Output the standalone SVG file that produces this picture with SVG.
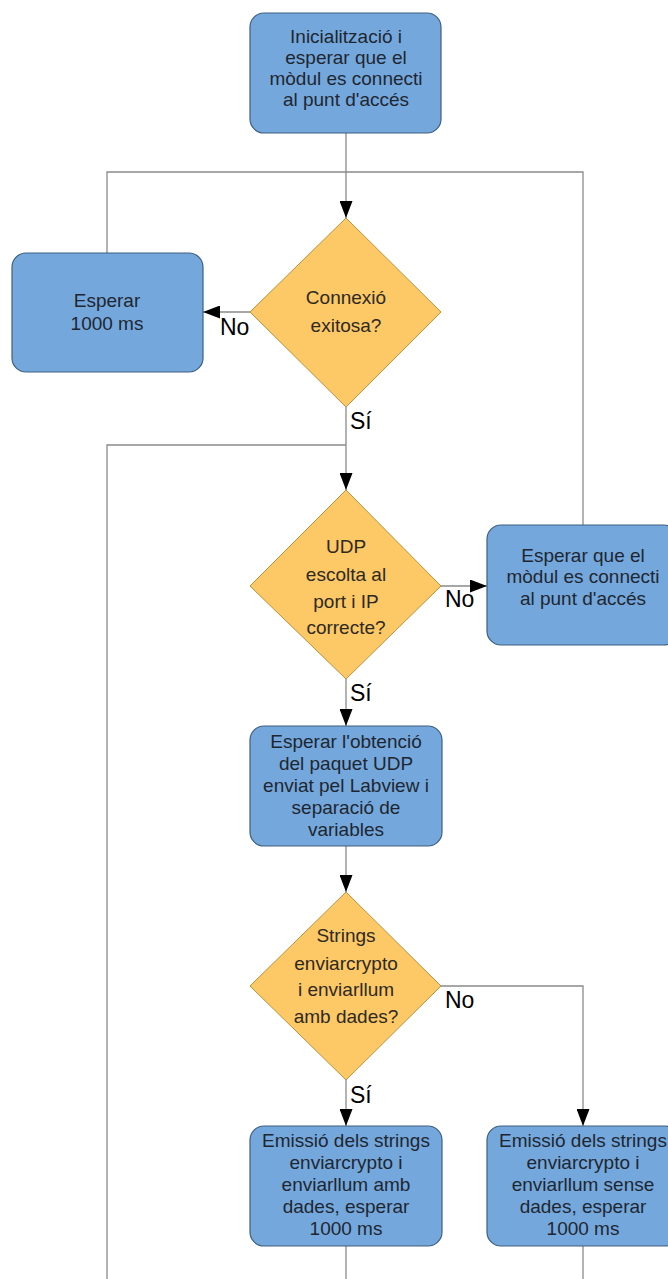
<svg xmlns="http://www.w3.org/2000/svg" width="668" height="1279" viewBox="0 0 668 1279">
<style>
.box{fill:#74a8dc;stroke:#3e5f80;stroke-width:1.2}
.dia{fill:#fdc866;stroke:#b8923e;stroke-width:1}
.t{font-family:"Liberation Sans",Arial,sans-serif;font-size:19px;fill:#1f2630;text-anchor:middle}
.dt{font-family:"Liberation Sans",Arial,sans-serif;font-size:19px;fill:#2e2a22;text-anchor:middle}
.lbl{font-family:"Liberation Sans",Arial,sans-serif;font-size:23px;fill:#000}
.c{fill:none;stroke:#8a8a8a;stroke-width:1.3}
</style>
<defs>
<marker id="ah" viewBox="0 0 17 13" refX="17" refY="6.5" markerWidth="17" markerHeight="13" markerUnits="userSpaceOnUse" orient="auto">
<path d="M0,0 L17,6.5 L0,13 z" fill="#000"/>
</marker>
</defs>
<rect width="668" height="1279" fill="#fff"/>
<g id="connectors">
<path class="c" d="M346,133 V218" marker-end="url(#ah)"/>
<path class="c" d="M250,312 H203" marker-end="url(#ah)"/>
<path class="c" d="M107,253 V172 H346"/>
<path class="c" d="M583,525 V172 H346"/>
<path class="c" d="M346,407 V490" marker-end="url(#ah)"/>
<path class="c" d="M107,1279 V445 H346"/>
<path class="c" d="M441,586 H487" marker-end="url(#ah)"/>
<path class="c" d="M346,679 V726" marker-end="url(#ah)"/>
<path class="c" d="M346,846 V892" marker-end="url(#ah)"/>
<path class="c" d="M441,986 H583 V1126" marker-end="url(#ah)"/>
<path class="c" d="M346,1080 V1126" marker-end="url(#ah)"/>
<path class="c" d="M346,1246 V1279"/>
<path class="c" d="M583,1246 V1279"/>
<text class="lbl" x="220" y="335">No</text>
<text class="lbl" x="350" y="429">Sí</text>
<text class="lbl" x="445" y="607">No</text>
<text class="lbl" x="350" y="701">Sí</text>
<text class="lbl" x="445" y="1008">No</text>
<text class="lbl" x="350" y="1103">Sí</text>
</g>
<g id="n-init">
<rect class="box" x="250" y="13" width="191" height="120" rx="14"/>
<text class="t" x="346" y="43">Inicialització i</text>
<text class="t" x="346" y="64">esperar que el</text>
<text class="t" x="346" y="85">mòdul es connecti</text>
<text class="t" x="346" y="106">al punt d'accés</text>
</g>
<g id="n-conn">
<polygon class="dia" points="346,218 441,312 346,407 250,312"/>
<text class="dt" x="346" y="304">Connexió</text>
<text class="dt" x="346" y="332">exitosa?</text>
</g>
<g id="n-wait1">
<rect class="box" x="12" y="253" width="191" height="119" rx="14"/>
<text class="t" x="107" y="307">Esperar</text>
<text class="t" x="107" y="330">1000 ms</text>
</g>
<g id="n-udp">
<polygon class="dia" points="346,490 441,586 346,679 250,586"/>
<text class="dt" x="346" y="553">UDP</text>
<text class="dt" x="346" y="581">escolta al</text>
<text class="dt" x="346" y="608">port i IP</text>
<text class="dt" x="346" y="634">correcte?</text>
</g>
<g id="n-wait2">
<rect class="box" x="487" y="525" width="191" height="120" rx="14"/>
<text class="t" x="583" y="562">Esperar que el</text>
<text class="t" x="583" y="583">mòdul es connecti</text>
<text class="t" x="583" y="605">al punt d'accés</text>
</g>
<g id="n-recv">
<rect class="box" x="250" y="726" width="192" height="120" rx="14"/>
<text class="t" x="346" y="748">Esperar l'obtenció</text>
<text class="t" x="346" y="770">del paquet UDP</text>
<text class="t" x="346" y="792">enviat pel Labview i</text>
<text class="t" x="346" y="814">separació de</text>
<text class="t" x="346" y="836">variables</text>
</g>
<g id="n-strings">
<polygon class="dia" points="346,892 441,986 346,1080 250,986"/>
<text class="dt" x="346" y="942">Strings</text>
<text class="dt" x="346" y="970">enviarcrypto</text>
<text class="dt" x="346" y="996">i enviarllum</text>
<text class="dt" x="346" y="1023">amb dades?</text>
</g>
<g id="n-emit-yes">
<rect class="box" x="250" y="1126" width="192" height="120" rx="14"/>
<text class="t" x="346" y="1147">Emissió dels strings</text>
<text class="t" x="346" y="1169">enviarcrypto i</text>
<text class="t" x="346" y="1191">enviarllum amb</text>
<text class="t" x="346" y="1213">dades, esperar</text>
<text class="t" x="346" y="1235">1000 ms</text>
</g>
<g id="n-emit-no">
<rect class="box" x="487" y="1126" width="192" height="120" rx="14"/>
<text class="t" x="583" y="1147">Emissió dels strings</text>
<text class="t" x="583" y="1169">enviarcrypto i</text>
<text class="t" x="583" y="1191">enviarllum sense</text>
<text class="t" x="583" y="1213">dades, esperar</text>
<text class="t" x="583" y="1235">1000 ms</text>
</g>
</svg>
